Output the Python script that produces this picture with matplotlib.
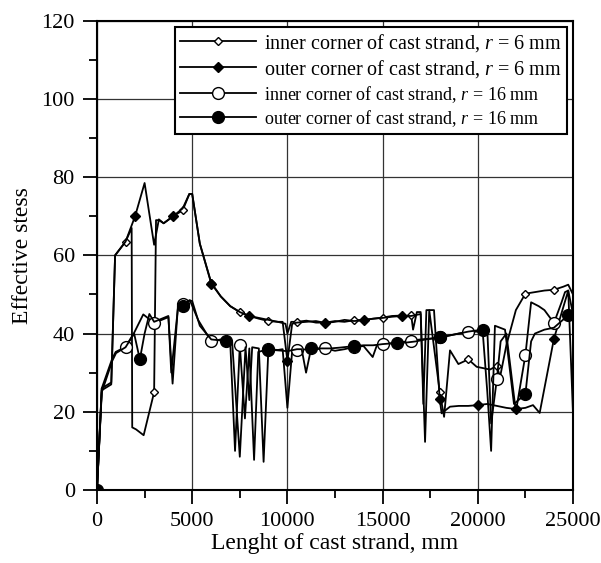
import numpy as np
import matplotlib.pyplot as plt
from matplotlib.ticker import MultipleLocator

plt.rcParams['font.family'] = ['Liberation Serif', 'DejaVu Serif']
plt.rcParams['mathtext.fontset'] = 'custom'
plt.rcParams['mathtext.rm'] = 'Liberation Serif'
plt.rcParams['mathtext.it'] = 'Liberation Serif:italic'

# inner corner, r = 6 mm (open diamonds every 1500 mm)
x_in6 = [0, 250, 750, 950, 1500, 1820, 1850, 2050, 2450, 3000, 3100, 3250, 3500, 4000,
         4500, 4850, 5000, 5400, 6000, 6500, 7000, 7500, 8000, 8500, 9000, 9500, 9900,
         10000, 10200, 10500, 11000, 11500, 12000, 12500, 13000, 13500, 14000, 14500,
         15000, 15500, 16000, 16300, 16500, 16600, 16800, 17000, 17230, 17450, 18000,
         18230, 18540, 18980, 19500, 19940, 20640, 21000, 21170, 21500, 22000, 22500,
         23000, 23500, 24000, 24500, 24750, 25000]
y_in6 = [0, 26, 27.5, 60, 63.5, 67, 16, 15.5, 14, 25, 69, 69, 68.2, 70,
         71.5, 75.7, 75.7, 63, 53, 49.5, 47, 45.5, 44.5, 43.8, 43.2, 43, 42.5,
         40, 43, 43, 43.3, 42.8, 42.8, 43.2, 43, 43.4, 43.5, 43.8,
         44.1, 44.5, 44.6, 44.5, 44.8, 41, 45.5, 45.5, 12.3, 46, 25.1,
         18.7, 35.7, 32.2, 33.4, 31.5, 30.8, 31.7, 28.9, 37, 46, 50.2,
         50.6, 51, 51.2, 52, 52.5, 50]

# outer corner, r = 6 mm (filled diamonds every 2000 mm)
x_out6 = [0, 250, 750, 950, 1500, 2000, 2500, 3000, 3250, 3500, 4000, 4500, 4850, 5000,
          5400, 6000, 6500, 7000, 7500, 8000, 8500, 9000, 9500, 9750, 10000, 10250,
          10500, 11000, 11500, 12000, 12500, 13000, 13500, 14000, 14500, 15000, 15500,
          16000, 16500, 17000, 17140, 17300, 17700, 18000, 18100, 18540, 19000, 19500,
          20000, 20500, 21000, 21500, 22000, 22500, 22900, 23250, 24000, 24750, 25000]
y_out6 = [0, 25.5, 27, 60, 63.5, 70, 78.5, 62.7, 69.2, 68.2, 70, 72, 75.7, 75.7,
          63, 52.8, 49.5, 47, 45.5, 44.5, 44, 43.5, 43, 43, 33, 42.5,
          42.8, 43, 43.2, 42.7, 43, 43.5, 43.2, 43.4, 43.8, 44, 44.3,
          44.5, 44.5, 45, 22, 46, 46, 23.2, 19.6, 21.3, 21.5, 21.5,
          21.7, 22, 21.5, 21, 20.7, 21, 21.7, 19.7, 38.7, 51, 19.6]

# inner corner, r = 16 mm (open circles every 1500 mm)
x_in16 = [0, 250, 800, 980, 1500, 1950, 2430, 3000, 3750, 3970, 4250, 4500, 4880, 5320,
          6000, 6500, 7000, 7250, 7500, 7770, 8000, 8250, 8470, 9000, 9500, 9750, 10000,
          10250, 10500, 11000, 11500, 12000, 12500, 13000, 13500, 14000, 14480, 14700,
          15000, 15500, 16000, 16500, 17000, 17500, 18000, 18500, 19000, 19500, 20000,
          20200, 20500, 20700, 21000, 21200, 21500, 22000, 22500, 22800, 23200, 23500,
          24000, 24400, 24580, 24750, 25000]
y_in16 = [0, 26, 33.6, 35.3, 36.6, 40.2, 44.9, 42.7, 44.2, 27.2, 47, 47.5, 48.5, 43.4,
          38, 38.5, 37.5, 10, 37, 18.3, 36.2, 7.7, 35.3, 36, 35.8, 36, 21,
          35.5, 35.7, 36, 36, 36.2, 35.6, 36, 36.6, 36.8, 34, 37,
          37.4, 37.5, 37.8, 38.2, 38.5, 38.7, 39, 39.5, 40, 40.4, 40.5,
          40.8, 41, 17, 28.3, 38, 40, 20, 34.5, 48, 47, 46,
          42.7, 48, 50.6, 51, 45]

# outer corner, r = 16 mm (filled circles every 2250 mm)
x_out16 = [0, 250, 800, 1000, 1500, 1950, 2250, 2500, 2750, 3000, 3500, 3750, 3900, 4250,
           4500, 4850, 5000, 5400, 6000, 6750, 7100, 7500, 7800, 8000, 8150, 8500, 8750,
           9000, 9500, 10000, 10500, 10750, 10980, 11250, 11750, 12250, 12750, 13500,
           14000, 14500, 15000, 15750, 16250, 16750, 17250, 18000, 18500, 19000, 19500,
           20250, 20500, 20700, 20900, 21430, 21900, 22500, 22800, 23000, 23500, 24000,
           24750, 25000]
y_out16 = [0, 25, 33, 35, 36.5, 40, 33.4, 40, 45, 43, 44, 44.5, 30, 46.5,
           47, 48.5, 48.3, 42, 38.5, 38.1, 37.8, 8.5, 36.5, 23, 36.5, 36.2, 7.2,
           35.9, 35.7, 35.5, 36, 36, 30, 36.3, 36.2, 36.2, 36.4, 36.8,
           37, 37, 37.3, 37.6, 37.7, 38, 38.5, 39, 39.5, 40, 40.5,
           41, 25, 10, 42, 41, 22, 24.5, 38, 40, 41, 41.5,
           44.7, 45]

labels = ['inner corner of cast strand, $r$ = 6 mm',
          'outer corner of cast strand, $r$ = 6 mm',
          'inner corner of cast strand, $r$ = 16 mm',
          'outer corner of cast strand, $r$ = 16 mm']


def marks(xs, step):
    return [i for i, v in enumerate(xs) if v % step == 0]


fig = plt.figure(figsize=(6.01, 5.63), dpi=100)
ax = fig.add_axes([0.1614, 0.1297, 0.792, 0.8335])

ax.grid(True, which='major', color='#333333', linewidth=0.9)
ax.set_axisbelow(True)

ax.plot(x_in6, y_in6, color='black', lw=1.3, marker='D', ms=4.5, mfc='white',
        mec='black', mew=1.0, markevery=[i for i in marks(x_in6, 1500) if i > 0],
        label=labels[0])
ax.plot(x_out6, y_out6, color='black', lw=1.3, marker='D', ms=5.5, mfc='black',
        mec='black', markevery=marks(x_out6, 2000), label=labels[1])
ax.plot(x_in16, y_in16, color='black', lw=1.3, marker='o', ms=8.5, mfc='white',
        mec='black', mew=1.0, markevery=[i for i in marks(x_in16, 1500) if i > 0],
        label=labels[2])
ax.plot(x_out16, y_out16, color='black', lw=1.3, marker='o', ms=8.5, mfc='black',
        mec='black', markevery=marks(x_out16, 2250), label=labels[3])

ax.set_xlim(0, 25000)
ax.set_ylim(0, 120)
ax.xaxis.set_major_locator(MultipleLocator(5000))
ax.xaxis.set_minor_locator(MultipleLocator(2500))
ax.yaxis.set_major_locator(MultipleLocator(20))
ax.yaxis.set_minor_locator(MultipleLocator(10))
ax.tick_params(which='major', direction='out', length=10, width=1.3, labelsize=16, pad=6)
ax.tick_params(which='minor', direction='out', length=6, width=1.3)
for s in ax.spines.values():
    s.set_linewidth(1.5)

ax.set_xlabel('Lenght of cast strand, mm', fontsize=17, labelpad=1)
ax.set_ylabel('Effective stess', fontsize=17, labelpad=6)

leg = ax.legend(loc='upper right', bbox_to_anchor=(0.987, 0.987), borderaxespad=0,
                fontsize=14.5, handlelength=3.8, frameon=True, fancybox=False,
                edgecolor='black', framealpha=1, borderpad=0.25, labelspacing=0.2,
                handletextpad=0.4)
leg.get_frame().set_linewidth(1.5)
for t in leg.get_texts()[2:]:
    t.set_fontsize(13)

fig.savefig('out.png', dpi=100)
